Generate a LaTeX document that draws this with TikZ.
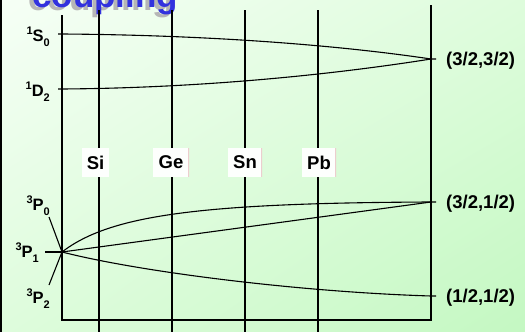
\documentclass[tikz,border=0pt]{standalone}
\usepackage{fontspec}
\setmainfont{Liberation Sans}
\usetikzlibrary{positioning,calc,shadings}
\definecolor{bgtop}{RGB}{246,255,246}
\definecolor{bgmid}{RGB}{222,252,220}
\definecolor{bgbottom}{RGB}{196,248,194}
\definecolor{titlecolor}{RGB}{50,50,222}
\definecolor{shadowcolor}{RGB}{182,182,182}
\definecolor{tagedge}{RGB}{236,206,206}
\tikzset{
gridline/.style={
  draw=black,
  line width=1.1pt
},
levelline/.style={
  draw=black,
  line width=1.1pt
},
termlabel/.style={
  font=\fontsize{16.5}{18}\selectfont\bfseries,
  inner sep=0pt,
  anchor=east
},
jjlabel/.style={
  font=\fontsize{18.5}{20}\selectfont\bfseries,
  inner sep=0pt,
  anchor=west
},
elemtag/.style={
  fill=white!80!bgtop,
  font=\fontsize{18.5}{20}\selectfont\bfseries,
  inner sep=0pt,
  minimum height=29pt
},
edgedtag/.style={
  elemtag,
  path picture={\draw[tagedge, line width=1.2pt]
    (path picture bounding box.north east) -- (path picture bounding box.south east);}
},
titletext/.style={
  font=\fontsize{35}{36}\selectfont\bfseries,
  inner sep=0pt,
  anchor=base west
}
}
\newcommand{\termsym}[3]{\raisebox{0.75ex}{\fontsize{11}{11}\selectfont #1}#2\raisebox{-0.6ex}{\fontsize{11}{11}\selectfont #3}}

\begin{document}
\begin{tikzpicture}[x=1pt, y=-1pt]
  \useasboundingbox (0,0) rectangle (525,332);
  \clip (0,0) rectangle (525,332);
  \shade[upper left=bgtop, upper right=bgmid, lower left=bgmid, lower right=bgbottom]
    (0,0) rectangle (525,332);
  \draw[line width=1.5pt] (0.75,0) -- (0.75,332);

  % --- title ---
  \node[titletext, text=shadowcolor] (ttlshadow) at (28,10) {coupling};
  \node[titletext, text=titlecolor] (ttl) at (32,7) {coupling};

  % --- frame and element lines ---
  \foreach \x in {99,172,245,318}
    \draw[gridline] (\x,10) -- (\x,332);
  \draw[gridline] (62,15) |- (431,320) -- (431,5);

  % --- level end points ---
  \coordinate (s0) at (58,34);
  \coordinate (d2) at (58,89);
  \coordinate (p1) at (62,252);
  \coordinate (p1tick) at (45,252);
  \coordinate (p0end) at (49,217);
  \coordinate (p2end) at (49,285);
  \coordinate (jj1) at (431,59);
  \coordinate (jj2) at (431,202);
  \coordinate (jj3) at (431,296);

  % --- LS side ---
  \draw[levelline] (s0) -- ++(4,0) .. controls (200,35) and (330,44) .. (jj1) -- ++(5,0);
  \draw[levelline] (d2) -- ++(4,0) .. controls (200,88) and (330,75) .. (jj1);
  \draw[levelline] (p1tick) -- (p1);
  \draw[levelline] (p0end) -- (p1) -- (p2end);
  \draw[levelline] (p1) .. controls (110,215) and (200,203) .. (jj2) -- ++(5,0);
  \draw[levelline] (p1) -- (jj2);
  \draw[levelline] (p1) .. controls (140,272) and (300,292) .. (jj3) -- ++(5,0);

  % --- labels ---
  \node[termlabel] (ls0) at (50,37) {\termsym{1}{S}{0}};
  \node[termlabel] (ld2) at (50,92) {\termsym{1}{D}{2}};
  \node[termlabel] (lp0) at (50,206) {\termsym{3}{P}{0}};
  \node[termlabel] (lp1) at (39,253) {\termsym{3}{P}{1}};
  \node[termlabel] (lp2) at (50,299) {\termsym{3}{P}{2}};
  \node[jjlabel] (ljj1) at (446,61) {(3/2,3/2)};
  \node[jjlabel] (ljj2) at (446,204) {(3/2,1/2)};
  \node[jjlabel] (ljj3) at (446,298) {(1/2,1/2)};

  % --- elements ---
  \node[elemtag, minimum width=27pt] (si) at (95.5,162.5) {Si};
  \node[edgedtag, minimum width=36pt] (ge) at (171,162.5) {Ge};
  \node[edgedtag, minimum width=34pt] (sn) at (245,162.5) {Sn};
  \node[edgedtag, minimum width=34pt] (pb) at (319,162.5) {Pb};
\end{tikzpicture}
\end{document}
